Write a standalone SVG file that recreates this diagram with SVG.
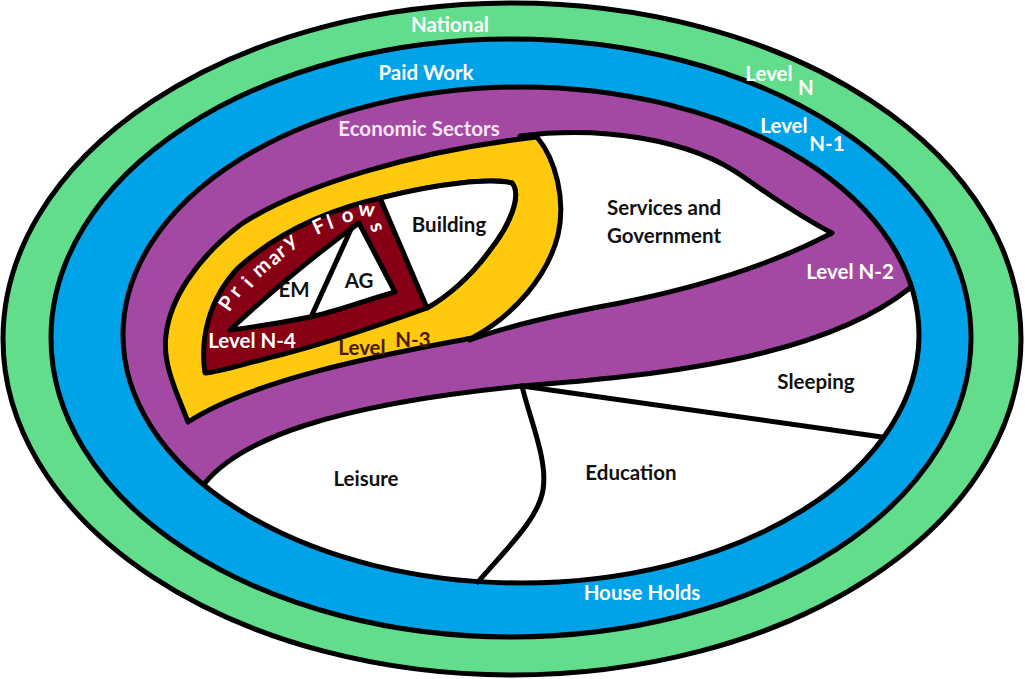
<svg xmlns="http://www.w3.org/2000/svg" width="1025" height="679" viewBox="0 0 1025 679">
<defs>
<style>
.o{stroke:#000;stroke-width:5;stroke-linejoin:round}
.ln{fill:none;stroke:#000;stroke-width:5;stroke-linecap:round;stroke-linejoin:round}
.t{font-family:Lato,"Open Sans","Liberation Sans",sans-serif;font-weight:bold;font-size:20.5px}
.w{fill:#fff}
.k{fill:#111}
</style>
<clipPath id="inner"><ellipse cx="521" cy="335" rx="398" ry="248"/></clipPath>
</defs>
<rect width="1025" height="679" fill="#fff"/>
<g id="national"><ellipse class="o" cx="512" cy="339" rx="509" ry="336" fill="#62dd8c"/></g>
<g id="paid-work"><ellipse class="o" cx="511" cy="338" rx="460" ry="299" fill="#00a2e8"/></g>
<g id="households"><ellipse cx="521" cy="335" rx="398" ry="248" fill="#fff"/></g>
<g id="economic-sectors"><path clip-path="url(#inner)" fill="#a349a4" d="M 205,483 C 240,440 330,405 522,386 C 650,376 820,360 910,288 L 1020,200 L 1020,0 L 0,0 L 0,560 Z"/></g>
<g id="services"><path class="o" fill="#fff" d="M 520,136 C 600,126 690,138 745,178 C 782,204 810,222 832,233 C 790,255 720,283 620,303 C 560,314 510,325 470,340 L 500,300 Z"/></g>
<g id="level-n3"><path class="o" fill="#ffc90e" d="M 188,422 C 178,395 162,365 166,335 C 170,300 195,260 240,225 C 300,185 420,150 537,137 C 556,160 566,200 558,235 C 548,275 515,315 472,338 C 410,350 260,375 188,422 Z"/></g>
<g id="level-n4"><path class="o" fill="#880015" d="M 205,373 C 200,340 208,300 238,268 C 275,235 325,210 385,197 C 440,183 490,178 512,183 C 522,195 510,225 490,250 C 470,278 445,298 427,308 C 380,325 320,345 280,355 C 250,362 220,372 205,373 Z"/></g>
<g id="building"><path class="o" fill="#fff" d="M 380,198 C 440,183 490,178 512,183 C 522,195 510,225 490,250 C 470,278 445,298 427,308 Z"/></g>
<g id="em-ag"><path class="o" fill="#fff" d="M 230,330 C 262,300 312,257 359,223 L 395,292 C 360,302 335,312 310,317 C 280,323 255,327 230,330 Z"/></g>
<g id="connectors">
<path class="ln" d="M 352,227 L 311,317"/>
<path class="ln" d="M 205,483 C 240,440 330,405 522,386 C 650,376 820,360 910,288"/>
<path class="ln" d="M 522,386 L 882,437"/>
<path class="ln" d="M 522,386 C 530,420 548,460 543,490 C 538,520 505,550 478,582"/>
<ellipse class="o" cx="521" cy="335" rx="398" ry="248" fill="none"/>
</g>
<g id="labels">
<text class="t w" x="450" y="32" text-anchor="middle">National</text>
<text class="t w" x="426" y="80" text-anchor="middle">Paid Work</text>
<text class="t w" x="769" y="81" text-anchor="middle">Level</text>
<text class="t w" x="806" y="95" text-anchor="middle">N</text>
<text class="t w" x="784" y="133" text-anchor="middle">Level</text>
<text class="t w" x="827" y="151" text-anchor="middle">N-1</text>
<text class="t" fill="#f6e6f6" x="419" y="136" text-anchor="middle">Economic Sectors</text>
<text class="t w" x="850" y="279" text-anchor="middle">Level N-2</text>
<text class="t k" x="607" y="215">Services and</text>
<text class="t k" x="607" y="243">Government</text>
<text class="t k" x="449" y="232" text-anchor="middle">Building</text>
<text class="t k" x="294" y="297" text-anchor="middle">EM</text>
<text class="t k" x="359" y="288" text-anchor="middle">AG</text>
<text class="t w" x="252" y="348" text-anchor="middle">Level N-4</text>
<text class="t" fill="#4a1a00" x="362" y="355" text-anchor="middle">Level</text>
<text class="t" fill="#4a1a00" x="413" y="347" text-anchor="middle">N-3</text>
<text class="t k" x="816" y="389" text-anchor="middle">Sleeping</text>
<text class="t k" x="366" y="486" text-anchor="middle">Leisure</text>
<text class="t k" x="631" y="480" text-anchor="middle">Education</text>
<text class="t w" x="642" y="600" text-anchor="middle">House Holds</text>
<text class="t w" font-size="16.5" x="229 238.2 250.9 259.3 274 281.7 288.8 302 316.5 329.9 343.1 357.8 369.8" y="312.5 298.4 288.7 278.2 266.2 258.5 249.1 242 235.3 229.4 223.2 215.6 224.8" rotate="-55 -52 -48 -42 -38 -36 -35 -30 -25 -20 -12 5 72">Primary Flows</text>
</g>
</svg>
